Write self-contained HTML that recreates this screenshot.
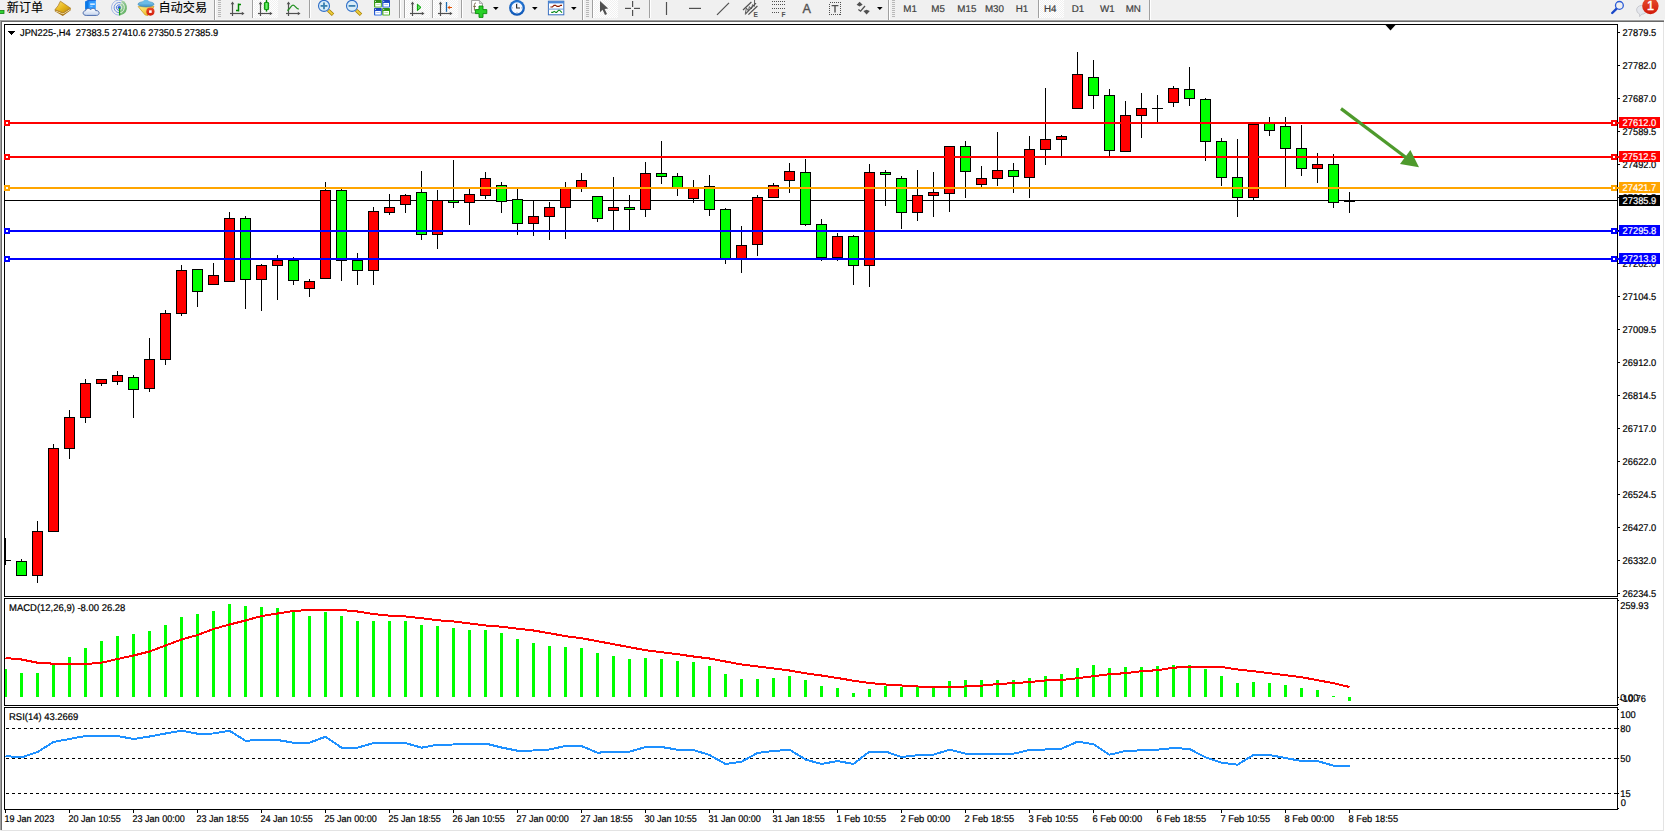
<!DOCTYPE html>
<html lang="zh"><head><meta charset="utf-8"><title>JPN225-,H4</title>
<style>html,body{margin:0;padding:0;background:#f0f0f0;}body{width:1665px;height:832px;overflow:hidden;position:relative;}svg{position:absolute;left:0;top:0;display:block;}text{font-family:"Liberation Sans", "DejaVu Sans", sans-serif;} .cjk{font-family:"Liberation Sans", "Noto Sans CJK SC", "WenQuanYi Zen Hei", sans-serif;}</style></head><body>
<svg width="1665" height="832" viewBox="0 0 1665 832">
<g shape-rendering="crispEdges">
<rect x="0" y="0" width="1665" height="832" fill="#f0f0f0"/>
<rect x="0" y="19" width="1665" height="1" fill="#f5f5f5"/>
<rect x="2" y="22" width="1661" height="808" fill="#ffffff"/>
<rect x="0" y="20" width="1664" height="1" fill="#a0a0a0"/>
<rect x="0" y="21" width="1664" height="1" fill="#696969"/>
<rect x="0" y="21" width="1" height="809" fill="#a0a0a0"/>
<rect x="1" y="22" width="1" height="808" fill="#696969"/>
<rect x="1663" y="22" width="1" height="809" fill="#e3e3e3"/>
<rect x="1" y="830" width="1663" height="1" fill="#e3e3e3"/>
<rect x="1664" y="20" width="1" height="812" fill="#ffffff"/>
<rect x="0" y="831" width="1665" height="1" fill="#ffffff"/>
<rect x="4" y="24" width="1614" height="1" fill="#000000"/>
<rect x="4" y="596" width="1614" height="1" fill="#000000"/>
<rect x="4" y="24" width="1" height="573" fill="#000000"/>
<rect x="1617" y="24" width="1" height="573" fill="#000000"/>
<rect x="4" y="598" width="1614" height="1" fill="#000000"/>
<rect x="4" y="705" width="1614" height="1" fill="#000000"/>
<rect x="4" y="598" width="1" height="108" fill="#000000"/>
<rect x="1617" y="598" width="1" height="108" fill="#000000"/>
<rect x="4" y="707" width="1614" height="1" fill="#000000"/>
<rect x="4" y="809" width="1614" height="1" fill="#000000"/>
<rect x="4" y="707" width="1" height="103" fill="#000000"/>
<rect x="1617" y="707" width="1" height="103" fill="#000000"/>
</g>
<polygon points="1385.5,25 1395.5,25 1390.5,30.5" fill="#000"/>
<g shape-rendering="crispEdges">
<rect x="5" y="200" width="1612" height="1" fill="#000000"/>
<rect x="5" y="538" width="1" height="27" fill="#000000"/>
<rect x="5" y="560" width="6" height="1" fill="#000000"/>
<rect x="21" y="559" width="1" height="17" fill="#000000"/>
<rect x="16" y="561" width="11" height="15" fill="#000000"/>
<rect x="17" y="562" width="9" height="13" fill="#00ff00"/>
<rect x="37" y="521" width="1" height="62" fill="#000000"/>
<rect x="32" y="531" width="11" height="45" fill="#000000"/>
<rect x="33" y="532" width="9" height="43" fill="#ff0000"/>
<rect x="53" y="444" width="1" height="88" fill="#000000"/>
<rect x="48" y="448" width="11" height="84" fill="#000000"/>
<rect x="49" y="449" width="9" height="82" fill="#ff0000"/>
<rect x="69" y="410" width="1" height="49" fill="#000000"/>
<rect x="64" y="417" width="11" height="32" fill="#000000"/>
<rect x="65" y="418" width="9" height="30" fill="#ff0000"/>
<rect x="85" y="379" width="1" height="44" fill="#000000"/>
<rect x="80" y="383" width="11" height="35" fill="#000000"/>
<rect x="81" y="384" width="9" height="33" fill="#ff0000"/>
<rect x="101" y="379" width="1" height="7" fill="#000000"/>
<rect x="96" y="379" width="11" height="5" fill="#000000"/>
<rect x="97" y="380" width="9" height="3" fill="#ff0000"/>
<rect x="117" y="371" width="1" height="14" fill="#000000"/>
<rect x="112" y="375" width="11" height="7" fill="#000000"/>
<rect x="113" y="376" width="9" height="5" fill="#ff0000"/>
<rect x="133" y="375" width="1" height="43" fill="#000000"/>
<rect x="128" y="377" width="11" height="13" fill="#000000"/>
<rect x="129" y="378" width="9" height="11" fill="#00ff00"/>
<rect x="149" y="338" width="1" height="54" fill="#000000"/>
<rect x="144" y="359" width="11" height="30" fill="#000000"/>
<rect x="145" y="360" width="9" height="28" fill="#ff0000"/>
<rect x="165" y="310" width="1" height="55" fill="#000000"/>
<rect x="160" y="313" width="11" height="47" fill="#000000"/>
<rect x="161" y="314" width="9" height="45" fill="#ff0000"/>
<rect x="181" y="265" width="1" height="51" fill="#000000"/>
<rect x="176" y="270" width="11" height="44" fill="#000000"/>
<rect x="177" y="271" width="9" height="42" fill="#ff0000"/>
<rect x="197" y="269" width="1" height="38" fill="#000000"/>
<rect x="192" y="269" width="11" height="23" fill="#000000"/>
<rect x="193" y="270" width="9" height="21" fill="#00ff00"/>
<rect x="213" y="263" width="1" height="22" fill="#000000"/>
<rect x="208" y="275" width="11" height="10" fill="#000000"/>
<rect x="209" y="276" width="9" height="8" fill="#ff0000"/>
<rect x="229" y="212" width="1" height="70" fill="#000000"/>
<rect x="224" y="218" width="11" height="64" fill="#000000"/>
<rect x="225" y="219" width="9" height="62" fill="#ff0000"/>
<rect x="245" y="216" width="1" height="93" fill="#000000"/>
<rect x="240" y="218" width="11" height="62" fill="#000000"/>
<rect x="241" y="219" width="9" height="60" fill="#00ff00"/>
<rect x="261" y="264" width="1" height="47" fill="#000000"/>
<rect x="256" y="265" width="11" height="15" fill="#000000"/>
<rect x="257" y="266" width="9" height="13" fill="#ff0000"/>
<rect x="277" y="255" width="1" height="45" fill="#000000"/>
<rect x="272" y="260" width="11" height="6" fill="#000000"/>
<rect x="273" y="261" width="9" height="4" fill="#ff0000"/>
<rect x="293" y="257" width="1" height="28" fill="#000000"/>
<rect x="288" y="260" width="11" height="21" fill="#000000"/>
<rect x="289" y="261" width="9" height="19" fill="#00ff00"/>
<rect x="309" y="279" width="1" height="18" fill="#000000"/>
<rect x="304" y="281" width="11" height="8" fill="#000000"/>
<rect x="305" y="282" width="9" height="6" fill="#ff0000"/>
<rect x="325" y="182" width="1" height="97" fill="#000000"/>
<rect x="320" y="190" width="11" height="89" fill="#000000"/>
<rect x="321" y="191" width="9" height="87" fill="#ff0000"/>
<rect x="341" y="189" width="1" height="92" fill="#000000"/>
<rect x="336" y="190" width="11" height="71" fill="#000000"/>
<rect x="337" y="191" width="9" height="69" fill="#00ff00"/>
<rect x="357" y="253" width="1" height="32" fill="#000000"/>
<rect x="352" y="260" width="11" height="11" fill="#000000"/>
<rect x="353" y="261" width="9" height="9" fill="#00ff00"/>
<rect x="373" y="207" width="1" height="78" fill="#000000"/>
<rect x="368" y="211" width="11" height="60" fill="#000000"/>
<rect x="369" y="212" width="9" height="58" fill="#ff0000"/>
<rect x="389" y="194" width="1" height="21" fill="#000000"/>
<rect x="384" y="207" width="11" height="6" fill="#000000"/>
<rect x="385" y="208" width="9" height="4" fill="#ff0000"/>
<rect x="405" y="194" width="1" height="19" fill="#000000"/>
<rect x="400" y="195" width="11" height="10" fill="#000000"/>
<rect x="401" y="196" width="9" height="8" fill="#ff0000"/>
<rect x="421" y="171" width="1" height="69" fill="#000000"/>
<rect x="416" y="192" width="11" height="43" fill="#000000"/>
<rect x="417" y="193" width="9" height="41" fill="#00ff00"/>
<rect x="437" y="190" width="1" height="59" fill="#000000"/>
<rect x="432" y="200" width="11" height="35" fill="#000000"/>
<rect x="433" y="201" width="9" height="33" fill="#ff0000"/>
<rect x="453" y="160" width="1" height="48" fill="#000000"/>
<rect x="448" y="200" width="11" height="3" fill="#000000"/>
<rect x="449" y="201" width="9" height="1" fill="#00ff00"/>
<rect x="469" y="189" width="1" height="36" fill="#000000"/>
<rect x="464" y="194" width="11" height="9" fill="#000000"/>
<rect x="465" y="195" width="9" height="7" fill="#ff0000"/>
<rect x="485" y="172" width="1" height="27" fill="#000000"/>
<rect x="480" y="178" width="11" height="18" fill="#000000"/>
<rect x="481" y="179" width="9" height="16" fill="#ff0000"/>
<rect x="501" y="182" width="1" height="31" fill="#000000"/>
<rect x="496" y="185" width="11" height="17" fill="#000000"/>
<rect x="497" y="186" width="9" height="15" fill="#00ff00"/>
<rect x="517" y="189" width="1" height="46" fill="#000000"/>
<rect x="512" y="199" width="11" height="25" fill="#000000"/>
<rect x="513" y="200" width="9" height="23" fill="#00ff00"/>
<rect x="533" y="200" width="1" height="36" fill="#000000"/>
<rect x="528" y="216" width="11" height="8" fill="#000000"/>
<rect x="529" y="217" width="9" height="6" fill="#ff0000"/>
<rect x="549" y="202" width="1" height="38" fill="#000000"/>
<rect x="544" y="207" width="11" height="10" fill="#000000"/>
<rect x="545" y="208" width="9" height="8" fill="#ff0000"/>
<rect x="565" y="182" width="1" height="57" fill="#000000"/>
<rect x="560" y="188" width="11" height="20" fill="#000000"/>
<rect x="561" y="189" width="9" height="18" fill="#ff0000"/>
<rect x="581" y="173" width="1" height="19" fill="#000000"/>
<rect x="576" y="180" width="11" height="8" fill="#000000"/>
<rect x="577" y="181" width="9" height="6" fill="#ff0000"/>
<rect x="597" y="196" width="1" height="26" fill="#000000"/>
<rect x="592" y="196" width="11" height="23" fill="#000000"/>
<rect x="593" y="197" width="9" height="21" fill="#00ff00"/>
<rect x="613" y="177" width="1" height="54" fill="#000000"/>
<rect x="608" y="207" width="11" height="4" fill="#000000"/>
<rect x="609" y="208" width="9" height="2" fill="#ff0000"/>
<rect x="629" y="195" width="1" height="36" fill="#000000"/>
<rect x="624" y="207" width="11" height="3" fill="#000000"/>
<rect x="625" y="208" width="9" height="1" fill="#00ff00"/>
<rect x="645" y="162" width="1" height="55" fill="#000000"/>
<rect x="640" y="173" width="11" height="37" fill="#000000"/>
<rect x="641" y="174" width="9" height="35" fill="#ff0000"/>
<rect x="661" y="141" width="1" height="43" fill="#000000"/>
<rect x="656" y="173" width="11" height="4" fill="#000000"/>
<rect x="657" y="174" width="9" height="2" fill="#00ff00"/>
<rect x="677" y="173" width="1" height="23" fill="#000000"/>
<rect x="672" y="176" width="11" height="13" fill="#000000"/>
<rect x="673" y="177" width="9" height="11" fill="#00ff00"/>
<rect x="693" y="180" width="1" height="23" fill="#000000"/>
<rect x="688" y="188" width="11" height="11" fill="#000000"/>
<rect x="689" y="189" width="9" height="9" fill="#ff0000"/>
<rect x="709" y="175" width="1" height="41" fill="#000000"/>
<rect x="704" y="186" width="11" height="24" fill="#000000"/>
<rect x="705" y="187" width="9" height="22" fill="#00ff00"/>
<rect x="725" y="208" width="1" height="56" fill="#000000"/>
<rect x="720" y="209" width="11" height="50" fill="#000000"/>
<rect x="721" y="210" width="9" height="48" fill="#00ff00"/>
<rect x="741" y="226" width="1" height="47" fill="#000000"/>
<rect x="736" y="245" width="11" height="14" fill="#000000"/>
<rect x="737" y="246" width="9" height="12" fill="#ff0000"/>
<rect x="757" y="195" width="1" height="61" fill="#000000"/>
<rect x="752" y="197" width="11" height="48" fill="#000000"/>
<rect x="753" y="198" width="9" height="46" fill="#ff0000"/>
<rect x="773" y="183" width="1" height="15" fill="#000000"/>
<rect x="768" y="185" width="11" height="13" fill="#000000"/>
<rect x="769" y="186" width="9" height="11" fill="#ff0000"/>
<rect x="789" y="163" width="1" height="30" fill="#000000"/>
<rect x="784" y="171" width="11" height="10" fill="#000000"/>
<rect x="785" y="172" width="9" height="8" fill="#ff0000"/>
<rect x="805" y="159" width="1" height="67" fill="#000000"/>
<rect x="800" y="172" width="11" height="53" fill="#000000"/>
<rect x="801" y="173" width="9" height="51" fill="#00ff00"/>
<rect x="821" y="219" width="1" height="42" fill="#000000"/>
<rect x="816" y="224" width="11" height="34" fill="#000000"/>
<rect x="817" y="225" width="9" height="32" fill="#00ff00"/>
<rect x="837" y="233" width="1" height="28" fill="#000000"/>
<rect x="832" y="236" width="11" height="22" fill="#000000"/>
<rect x="833" y="237" width="9" height="20" fill="#ff0000"/>
<rect x="853" y="235" width="1" height="50" fill="#000000"/>
<rect x="848" y="236" width="11" height="30" fill="#000000"/>
<rect x="849" y="237" width="9" height="28" fill="#00ff00"/>
<rect x="869" y="164" width="1" height="123" fill="#000000"/>
<rect x="864" y="172" width="11" height="94" fill="#000000"/>
<rect x="865" y="173" width="9" height="92" fill="#ff0000"/>
<rect x="885" y="170" width="1" height="36" fill="#000000"/>
<rect x="880" y="172" width="11" height="3" fill="#000000"/>
<rect x="881" y="173" width="9" height="1" fill="#00ff00"/>
<rect x="901" y="176" width="1" height="53" fill="#000000"/>
<rect x="896" y="178" width="11" height="35" fill="#000000"/>
<rect x="897" y="179" width="9" height="33" fill="#00ff00"/>
<rect x="917" y="170" width="1" height="51" fill="#000000"/>
<rect x="912" y="195" width="11" height="18" fill="#000000"/>
<rect x="913" y="196" width="9" height="16" fill="#ff0000"/>
<rect x="933" y="172" width="1" height="45" fill="#000000"/>
<rect x="928" y="192" width="11" height="4" fill="#000000"/>
<rect x="929" y="193" width="9" height="2" fill="#ff0000"/>
<rect x="949" y="146" width="1" height="66" fill="#000000"/>
<rect x="944" y="146" width="11" height="48" fill="#000000"/>
<rect x="945" y="147" width="9" height="46" fill="#ff0000"/>
<rect x="965" y="141" width="1" height="57" fill="#000000"/>
<rect x="960" y="146" width="11" height="26" fill="#000000"/>
<rect x="961" y="147" width="9" height="24" fill="#00ff00"/>
<rect x="981" y="166" width="1" height="21" fill="#000000"/>
<rect x="976" y="178" width="11" height="7" fill="#000000"/>
<rect x="977" y="179" width="9" height="5" fill="#ff0000"/>
<rect x="997" y="132" width="1" height="54" fill="#000000"/>
<rect x="992" y="170" width="11" height="9" fill="#000000"/>
<rect x="993" y="171" width="9" height="7" fill="#ff0000"/>
<rect x="1013" y="163" width="1" height="30" fill="#000000"/>
<rect x="1008" y="170" width="11" height="7" fill="#000000"/>
<rect x="1009" y="171" width="9" height="5" fill="#00ff00"/>
<rect x="1029" y="136" width="1" height="62" fill="#000000"/>
<rect x="1024" y="149" width="11" height="29" fill="#000000"/>
<rect x="1025" y="150" width="9" height="27" fill="#ff0000"/>
<rect x="1045" y="88" width="1" height="77" fill="#000000"/>
<rect x="1040" y="139" width="11" height="11" fill="#000000"/>
<rect x="1041" y="140" width="9" height="9" fill="#ff0000"/>
<rect x="1061" y="135" width="1" height="21" fill="#000000"/>
<rect x="1056" y="136" width="11" height="4" fill="#000000"/>
<rect x="1057" y="137" width="9" height="2" fill="#ff0000"/>
<rect x="1077" y="52" width="1" height="57" fill="#000000"/>
<rect x="1072" y="74" width="11" height="35" fill="#000000"/>
<rect x="1073" y="75" width="9" height="33" fill="#ff0000"/>
<rect x="1093" y="60" width="1" height="49" fill="#000000"/>
<rect x="1088" y="77" width="11" height="19" fill="#000000"/>
<rect x="1089" y="78" width="9" height="17" fill="#00ff00"/>
<rect x="1109" y="89" width="1" height="67" fill="#000000"/>
<rect x="1104" y="95" width="11" height="56" fill="#000000"/>
<rect x="1105" y="96" width="9" height="54" fill="#00ff00"/>
<rect x="1125" y="101" width="1" height="51" fill="#000000"/>
<rect x="1120" y="115" width="11" height="37" fill="#000000"/>
<rect x="1121" y="116" width="9" height="35" fill="#ff0000"/>
<rect x="1141" y="93" width="1" height="45" fill="#000000"/>
<rect x="1136" y="108" width="11" height="8" fill="#000000"/>
<rect x="1137" y="109" width="9" height="6" fill="#ff0000"/>
<rect x="1157" y="95" width="1" height="27" fill="#000000"/>
<rect x="1152" y="108" width="11" height="1" fill="#000000"/>
<rect x="1173" y="86" width="1" height="21" fill="#000000"/>
<rect x="1168" y="88" width="11" height="15" fill="#000000"/>
<rect x="1169" y="89" width="9" height="13" fill="#ff0000"/>
<rect x="1189" y="67" width="1" height="39" fill="#000000"/>
<rect x="1184" y="89" width="11" height="10" fill="#000000"/>
<rect x="1185" y="90" width="9" height="8" fill="#00ff00"/>
<rect x="1205" y="98" width="1" height="63" fill="#000000"/>
<rect x="1200" y="99" width="11" height="43" fill="#000000"/>
<rect x="1201" y="100" width="9" height="41" fill="#00ff00"/>
<rect x="1221" y="138" width="1" height="48" fill="#000000"/>
<rect x="1216" y="141" width="11" height="37" fill="#000000"/>
<rect x="1217" y="142" width="9" height="35" fill="#00ff00"/>
<rect x="1237" y="139" width="1" height="78" fill="#000000"/>
<rect x="1232" y="177" width="11" height="21" fill="#000000"/>
<rect x="1233" y="178" width="9" height="19" fill="#00ff00"/>
<rect x="1253" y="124" width="1" height="76" fill="#000000"/>
<rect x="1248" y="124" width="11" height="74" fill="#000000"/>
<rect x="1249" y="125" width="9" height="72" fill="#ff0000"/>
<rect x="1269" y="117" width="1" height="19" fill="#000000"/>
<rect x="1264" y="123" width="11" height="8" fill="#000000"/>
<rect x="1265" y="124" width="9" height="6" fill="#00ff00"/>
<rect x="1285" y="117" width="1" height="70" fill="#000000"/>
<rect x="1280" y="126" width="11" height="23" fill="#000000"/>
<rect x="1281" y="127" width="9" height="21" fill="#00ff00"/>
<rect x="1301" y="125" width="1" height="51" fill="#000000"/>
<rect x="1296" y="148" width="11" height="21" fill="#000000"/>
<rect x="1297" y="149" width="9" height="19" fill="#00ff00"/>
<rect x="1317" y="153" width="1" height="30" fill="#000000"/>
<rect x="1312" y="164" width="11" height="5" fill="#000000"/>
<rect x="1313" y="165" width="9" height="3" fill="#ff0000"/>
<rect x="1333" y="154" width="1" height="54" fill="#000000"/>
<rect x="1328" y="164" width="11" height="39" fill="#000000"/>
<rect x="1329" y="165" width="9" height="37" fill="#00ff00"/>
<rect x="1349" y="192" width="1" height="21" fill="#000000"/>
<rect x="1344" y="201" width="11" height="1" fill="#000000"/>
<rect x="5" y="122" width="1614" height="2" fill="#ff0000"/>
<rect x="4" y="120" width="6" height="6" fill="#ff0000"/>
<rect x="6" y="122" width="2" height="2" fill="#ffffff"/>
<rect x="1611" y="120" width="6" height="6" fill="#ff0000"/>
<rect x="1613" y="122" width="2" height="2" fill="#ffffff"/>
<rect x="5" y="156" width="1614" height="2" fill="#ff0000"/>
<rect x="4" y="154" width="6" height="6" fill="#ff0000"/>
<rect x="6" y="156" width="2" height="2" fill="#ffffff"/>
<rect x="1611" y="154" width="6" height="6" fill="#ff0000"/>
<rect x="1613" y="156" width="2" height="2" fill="#ffffff"/>
<rect x="5" y="187" width="1614" height="2" fill="#ffa500"/>
<rect x="4" y="185" width="6" height="6" fill="#ffa500"/>
<rect x="6" y="187" width="2" height="2" fill="#ffffff"/>
<rect x="1611" y="185" width="6" height="6" fill="#ffa500"/>
<rect x="1613" y="187" width="2" height="2" fill="#ffffff"/>
<rect x="5" y="230" width="1614" height="2" fill="#0000ff"/>
<rect x="4" y="228" width="6" height="6" fill="#0000ff"/>
<rect x="6" y="230" width="2" height="2" fill="#ffffff"/>
<rect x="1611" y="228" width="6" height="6" fill="#0000ff"/>
<rect x="1613" y="230" width="2" height="2" fill="#ffffff"/>
<rect x="5" y="258" width="1614" height="2" fill="#0000ff"/>
<rect x="4" y="256" width="6" height="6" fill="#0000ff"/>
<rect x="6" y="258" width="2" height="2" fill="#ffffff"/>
<rect x="1611" y="256" width="6" height="6" fill="#0000ff"/>
<rect x="1613" y="258" width="2" height="2" fill="#ffffff"/>
<rect x="5" y="669" width="2" height="28" fill="#00ff00"/>
<rect x="20" y="673" width="3" height="24" fill="#00ff00"/>
<rect x="36" y="673" width="3" height="24" fill="#00ff00"/>
<rect x="52" y="665" width="3" height="32" fill="#00ff00"/>
<rect x="68" y="657" width="3" height="40" fill="#00ff00"/>
<rect x="84" y="648" width="3" height="49" fill="#00ff00"/>
<rect x="100" y="641" width="3" height="56" fill="#00ff00"/>
<rect x="116" y="636" width="3" height="61" fill="#00ff00"/>
<rect x="132" y="634" width="3" height="63" fill="#00ff00"/>
<rect x="148" y="631" width="3" height="66" fill="#00ff00"/>
<rect x="164" y="625" width="3" height="72" fill="#00ff00"/>
<rect x="180" y="617" width="3" height="80" fill="#00ff00"/>
<rect x="196" y="614" width="3" height="83" fill="#00ff00"/>
<rect x="212" y="611" width="3" height="86" fill="#00ff00"/>
<rect x="228" y="604" width="3" height="93" fill="#00ff00"/>
<rect x="244" y="606" width="3" height="91" fill="#00ff00"/>
<rect x="260" y="607" width="3" height="90" fill="#00ff00"/>
<rect x="276" y="608" width="3" height="89" fill="#00ff00"/>
<rect x="292" y="612" width="3" height="85" fill="#00ff00"/>
<rect x="308" y="616" width="3" height="81" fill="#00ff00"/>
<rect x="324" y="612" width="3" height="85" fill="#00ff00"/>
<rect x="340" y="616" width="3" height="81" fill="#00ff00"/>
<rect x="356" y="621" width="3" height="76" fill="#00ff00"/>
<rect x="372" y="621" width="3" height="76" fill="#00ff00"/>
<rect x="388" y="621" width="3" height="76" fill="#00ff00"/>
<rect x="404" y="621" width="3" height="76" fill="#00ff00"/>
<rect x="420" y="625" width="3" height="72" fill="#00ff00"/>
<rect x="436" y="626" width="3" height="71" fill="#00ff00"/>
<rect x="452" y="628" width="3" height="69" fill="#00ff00"/>
<rect x="468" y="630" width="3" height="67" fill="#00ff00"/>
<rect x="484" y="630" width="3" height="67" fill="#00ff00"/>
<rect x="500" y="633" width="3" height="64" fill="#00ff00"/>
<rect x="516" y="639" width="3" height="58" fill="#00ff00"/>
<rect x="532" y="643" width="3" height="54" fill="#00ff00"/>
<rect x="548" y="646" width="3" height="51" fill="#00ff00"/>
<rect x="564" y="647" width="3" height="50" fill="#00ff00"/>
<rect x="580" y="648" width="3" height="49" fill="#00ff00"/>
<rect x="596" y="653" width="3" height="44" fill="#00ff00"/>
<rect x="612" y="656" width="3" height="41" fill="#00ff00"/>
<rect x="628" y="659" width="3" height="38" fill="#00ff00"/>
<rect x="644" y="658" width="3" height="39" fill="#00ff00"/>
<rect x="660" y="659" width="3" height="38" fill="#00ff00"/>
<rect x="676" y="661" width="3" height="36" fill="#00ff00"/>
<rect x="692" y="662" width="3" height="35" fill="#00ff00"/>
<rect x="708" y="666" width="3" height="31" fill="#00ff00"/>
<rect x="724" y="674" width="3" height="23" fill="#00ff00"/>
<rect x="740" y="679" width="3" height="18" fill="#00ff00"/>
<rect x="756" y="679" width="3" height="18" fill="#00ff00"/>
<rect x="772" y="678" width="3" height="19" fill="#00ff00"/>
<rect x="788" y="676" width="3" height="21" fill="#00ff00"/>
<rect x="804" y="680" width="3" height="17" fill="#00ff00"/>
<rect x="820" y="686" width="3" height="11" fill="#00ff00"/>
<rect x="836" y="688" width="3" height="9" fill="#00ff00"/>
<rect x="852" y="693" width="3" height="4" fill="#00ff00"/>
<rect x="868" y="689" width="3" height="8" fill="#00ff00"/>
<rect x="884" y="686" width="3" height="11" fill="#00ff00"/>
<rect x="900" y="687" width="3" height="10" fill="#00ff00"/>
<rect x="916" y="687" width="3" height="10" fill="#00ff00"/>
<rect x="932" y="688" width="3" height="9" fill="#00ff00"/>
<rect x="948" y="681" width="3" height="16" fill="#00ff00"/>
<rect x="964" y="680" width="3" height="17" fill="#00ff00"/>
<rect x="980" y="680" width="3" height="17" fill="#00ff00"/>
<rect x="996" y="680" width="3" height="17" fill="#00ff00"/>
<rect x="1012" y="680" width="3" height="17" fill="#00ff00"/>
<rect x="1028" y="678" width="3" height="19" fill="#00ff00"/>
<rect x="1044" y="676" width="3" height="21" fill="#00ff00"/>
<rect x="1060" y="674" width="3" height="23" fill="#00ff00"/>
<rect x="1076" y="668" width="3" height="29" fill="#00ff00"/>
<rect x="1092" y="665" width="3" height="32" fill="#00ff00"/>
<rect x="1108" y="668" width="3" height="29" fill="#00ff00"/>
<rect x="1124" y="667" width="3" height="30" fill="#00ff00"/>
<rect x="1140" y="667" width="3" height="30" fill="#00ff00"/>
<rect x="1156" y="666" width="3" height="31" fill="#00ff00"/>
<rect x="1172" y="665" width="3" height="32" fill="#00ff00"/>
<rect x="1188" y="665" width="3" height="32" fill="#00ff00"/>
<rect x="1204" y="669" width="3" height="28" fill="#00ff00"/>
<rect x="1220" y="676" width="3" height="21" fill="#00ff00"/>
<rect x="1236" y="683" width="3" height="14" fill="#00ff00"/>
<rect x="1252" y="682" width="3" height="15" fill="#00ff00"/>
<rect x="1268" y="683" width="3" height="14" fill="#00ff00"/>
<rect x="1284" y="685" width="3" height="12" fill="#00ff00"/>
<rect x="1300" y="688" width="3" height="9" fill="#00ff00"/>
<rect x="1316" y="690" width="3" height="7" fill="#00ff00"/>
<rect x="1332" y="696" width="3" height="1" fill="#00ff00"/>
<rect x="1348" y="697" width="3" height="4" fill="#00ff00"/>
</g>
<polyline points="5.5,658 21.5,659.5 37.5,662.7 53.5,663.7 69.5,664 85.5,664 101.5,662.7 117.5,659 133.5,655.5 149.5,651.5 165.5,645.5 181.5,639.5 197.5,635 213.5,629 229.5,624.5 245.5,620.5 261.5,616 277.5,613.5 293.5,611 309.5,610 325.5,610 341.5,610 357.5,611.5 373.5,614 389.5,615.7 405.5,616.5 421.5,618.2 437.5,620.2 453.5,621.5 469.5,623.5 485.5,625.5 501.5,626.7 517.5,628.7 533.5,630.5 549.5,633.2 565.5,636.2 581.5,638.2 597.5,641.2 613.5,644.2 629.5,647.2 645.5,650.2 661.5,652.2 677.5,654.2 693.5,656.5 709.5,658.5 725.5,661.5 741.5,664.5 757.5,666.5 773.5,668.5 789.5,670.5 805.5,673.3 821.5,675.5 837.5,678 853.5,680.7 869.5,683 885.5,684.5 901.5,685.5 917.5,686.5 933.5,686.7 949.5,686.7 965.5,686.5 981.5,685.7 997.5,684 1013.5,683.2 1029.5,682 1045.5,680.5 1061.5,680 1077.5,678.2 1093.5,676.2 1109.5,674.2 1125.5,673.2 1141.5,671.2 1157.5,670.2 1173.5,667.7 1189.5,666.7 1205.5,666.7 1221.5,667 1237.5,669.5 1253.5,671.2 1269.5,673.2 1285.5,675.2 1301.5,677.2 1317.5,680.2 1333.5,683.2 1349.5,687" fill="none" stroke="#ff0000" stroke-width="2" stroke-linejoin="round" shape-rendering="crispEdges"/>
<g shape-rendering="crispEdges">
<line x1="6" y1="728.5" x2="1617" y2="728.5" stroke="#000" stroke-width="1" stroke-dasharray="3 3"/>
<line x1="6" y1="758.5" x2="1617" y2="758.5" stroke="#000" stroke-width="1" stroke-dasharray="3 3"/>
<line x1="6" y1="793.5" x2="1617" y2="793.5" stroke="#000" stroke-width="1" stroke-dasharray="3 3"/>
</g>
<polyline points="5.5,756 21.5,757.5 37.5,752 53.5,742 69.5,739 85.5,736 101.5,736 117.5,736 133.5,739 149.5,736.5 165.5,733.5 181.5,730.7 197.5,733.7 213.5,733.5 229.5,730.7 245.5,740.7 261.5,740 277.5,740 293.5,742.7 309.5,742.7 325.5,736.7 341.5,747.7 357.5,747.7 373.5,743 389.5,743 405.5,743 421.5,747.7 437.5,744.7 453.5,744.5 469.5,744.2 485.5,743.5 501.5,747.5 517.5,750.7 533.5,750.5 549.5,749.5 565.5,746 581.5,746 597.5,752.7 613.5,751.7 629.5,751.7 645.5,747 661.5,747 677.5,749.7 693.5,750 709.5,755 725.5,764 741.5,761.7 757.5,753 773.5,751 789.5,749.7 805.5,759.5 821.5,764 837.5,761 853.5,764 869.5,751.5 885.5,751.5 901.5,757 917.5,755.2 933.5,754.7 949.5,749.7 965.5,753.7 981.5,753.7 997.5,753.7 1013.5,753.7 1029.5,750 1045.5,749.5 1061.5,748.7 1077.5,741.7 1093.5,744.2 1109.5,754.7 1125.5,751 1141.5,750.3 1157.5,749.7 1173.5,748 1189.5,749 1205.5,757.3 1221.5,762.7 1237.5,764.7 1253.5,755 1269.5,755 1285.5,758 1301.5,761 1317.5,761 1333.5,765.7 1349.5,765.7" fill="none" stroke="#1e90ff" stroke-width="2" stroke-linejoin="round" shape-rendering="crispEdges"/>
<g fill="#4e9a2c" stroke="none">
<line x1="1341" y1="108.6" x2="1408" y2="159" stroke="#4e9a2c" stroke-width="3.2"/>
<polygon points="1410.4,150 1400,164 1419,167.3"/>
</g>
<g shape-rendering="crispEdges">
<rect x="1618" y="32" width="2" height="1" fill="#000000"/>
<rect x="1618" y="65" width="2" height="1" fill="#000000"/>
<rect x="1618" y="98" width="2" height="1" fill="#000000"/>
<rect x="1618" y="131" width="2" height="1" fill="#000000"/>
<rect x="1618" y="164" width="2" height="1" fill="#000000"/>
<rect x="1618" y="197" width="2" height="1" fill="#000000"/>
<rect x="1618" y="230" width="2" height="1" fill="#000000"/>
<rect x="1618" y="263" width="2" height="1" fill="#000000"/>
<rect x="1618" y="296" width="2" height="1" fill="#000000"/>
<rect x="1618" y="329" width="2" height="1" fill="#000000"/>
<rect x="1618" y="362" width="2" height="1" fill="#000000"/>
<rect x="1618" y="395" width="2" height="1" fill="#000000"/>
<rect x="1618" y="428" width="2" height="1" fill="#000000"/>
<rect x="1618" y="461" width="2" height="1" fill="#000000"/>
<rect x="1618" y="494" width="2" height="1" fill="#000000"/>
<rect x="1618" y="527" width="2" height="1" fill="#000000"/>
<rect x="1618" y="560" width="2" height="1" fill="#000000"/>
<rect x="1618" y="593" width="2" height="1" fill="#000000"/>
</g>
<text transform="translate(1622.6,36) scale(0.95,1)" font-size="9.8" fill="#000" stroke="#000" stroke-width="0.2" text-rendering="geometricPrecision" xml:space="preserve" style="white-space:pre">27879.5</text>
<text transform="translate(1622.6,69) scale(0.95,1)" font-size="9.8" fill="#000" stroke="#000" stroke-width="0.2" text-rendering="geometricPrecision" xml:space="preserve" style="white-space:pre">27782.0</text>
<text transform="translate(1622.6,102) scale(0.95,1)" font-size="9.8" fill="#000" stroke="#000" stroke-width="0.2" text-rendering="geometricPrecision" xml:space="preserve" style="white-space:pre">27687.0</text>
<text transform="translate(1622.6,135) scale(0.95,1)" font-size="9.8" fill="#000" stroke="#000" stroke-width="0.2" text-rendering="geometricPrecision" xml:space="preserve" style="white-space:pre">27589.5</text>
<text transform="translate(1622.6,168) scale(0.95,1)" font-size="9.8" fill="#000" stroke="#000" stroke-width="0.2" text-rendering="geometricPrecision" xml:space="preserve" style="white-space:pre">27492.0</text>
<text transform="translate(1622.6,201) scale(0.95,1)" font-size="9.8" fill="#000" stroke="#000" stroke-width="0.2" text-rendering="geometricPrecision" xml:space="preserve" style="white-space:pre">27394.5</text>
<text transform="translate(1622.6,234) scale(0.95,1)" font-size="9.8" fill="#000" stroke="#000" stroke-width="0.2" text-rendering="geometricPrecision" xml:space="preserve" style="white-space:pre">27297.0</text>
<text transform="translate(1622.6,267) scale(0.95,1)" font-size="9.8" fill="#000" stroke="#000" stroke-width="0.2" text-rendering="geometricPrecision" xml:space="preserve" style="white-space:pre">27202.0</text>
<text transform="translate(1622.6,300) scale(0.95,1)" font-size="9.8" fill="#000" stroke="#000" stroke-width="0.2" text-rendering="geometricPrecision" xml:space="preserve" style="white-space:pre">27104.5</text>
<text transform="translate(1622.6,333) scale(0.95,1)" font-size="9.8" fill="#000" stroke="#000" stroke-width="0.2" text-rendering="geometricPrecision" xml:space="preserve" style="white-space:pre">27009.5</text>
<text transform="translate(1622.6,366) scale(0.95,1)" font-size="9.8" fill="#000" stroke="#000" stroke-width="0.2" text-rendering="geometricPrecision" xml:space="preserve" style="white-space:pre">26912.0</text>
<text transform="translate(1622.6,399) scale(0.95,1)" font-size="9.8" fill="#000" stroke="#000" stroke-width="0.2" text-rendering="geometricPrecision" xml:space="preserve" style="white-space:pre">26814.5</text>
<text transform="translate(1622.6,432) scale(0.95,1)" font-size="9.8" fill="#000" stroke="#000" stroke-width="0.2" text-rendering="geometricPrecision" xml:space="preserve" style="white-space:pre">26717.0</text>
<text transform="translate(1622.6,465) scale(0.95,1)" font-size="9.8" fill="#000" stroke="#000" stroke-width="0.2" text-rendering="geometricPrecision" xml:space="preserve" style="white-space:pre">26622.0</text>
<text transform="translate(1622.6,498) scale(0.95,1)" font-size="9.8" fill="#000" stroke="#000" stroke-width="0.2" text-rendering="geometricPrecision" xml:space="preserve" style="white-space:pre">26524.5</text>
<text transform="translate(1622.6,531) scale(0.95,1)" font-size="9.8" fill="#000" stroke="#000" stroke-width="0.2" text-rendering="geometricPrecision" xml:space="preserve" style="white-space:pre">26427.0</text>
<text transform="translate(1622.6,564) scale(0.95,1)" font-size="9.8" fill="#000" stroke="#000" stroke-width="0.2" text-rendering="geometricPrecision" xml:space="preserve" style="white-space:pre">26332.0</text>
<text transform="translate(1622.6,597) scale(0.95,1)" font-size="9.8" fill="#000" stroke="#000" stroke-width="0.2" text-rendering="geometricPrecision" xml:space="preserve" style="white-space:pre">26234.5</text>
<rect x="1619" y="117" width="41" height="11" fill="#ff0000" shape-rendering="crispEdges"/>
<text transform="translate(1622.6,126) scale(0.95,1)" font-size="9.8" fill="#fff" stroke="#fff" stroke-width="0.2" text-rendering="geometricPrecision" xml:space="preserve" style="white-space:pre">27612.0</text>
<rect x="1619" y="151" width="41" height="11" fill="#ff0000" shape-rendering="crispEdges"/>
<text transform="translate(1622.6,160) scale(0.95,1)" font-size="9.8" fill="#fff" stroke="#fff" stroke-width="0.2" text-rendering="geometricPrecision" xml:space="preserve" style="white-space:pre">27512.5</text>
<rect x="1619" y="182" width="41" height="11" fill="#ffa500" shape-rendering="crispEdges"/>
<text transform="translate(1622.6,191) scale(0.95,1)" font-size="9.8" fill="#fff" stroke="#fff" stroke-width="0.2" text-rendering="geometricPrecision" xml:space="preserve" style="white-space:pre">27421.7</text>
<rect x="1619" y="195" width="41" height="11" fill="#000000" shape-rendering="crispEdges"/>
<text transform="translate(1622.6,204) scale(0.95,1)" font-size="9.8" fill="#fff" stroke="#fff" stroke-width="0.2" text-rendering="geometricPrecision" xml:space="preserve" style="white-space:pre">27385.9</text>
<rect x="1619" y="225" width="41" height="11" fill="#0000ff" shape-rendering="crispEdges"/>
<text transform="translate(1622.6,234) scale(0.95,1)" font-size="9.8" fill="#fff" stroke="#fff" stroke-width="0.2" text-rendering="geometricPrecision" xml:space="preserve" style="white-space:pre">27295.8</text>
<rect x="1619" y="253" width="41" height="11" fill="#0000ff" shape-rendering="crispEdges"/>
<text transform="translate(1622.6,262) scale(0.95,1)" font-size="9.8" fill="#fff" stroke="#fff" stroke-width="0.2" text-rendering="geometricPrecision" xml:space="preserve" style="white-space:pre">27213.8</text>
<g shape-rendering="crispEdges">
<rect x="1618" y="600" width="1" height="1" fill="#000000"/>
<rect x="1618" y="697" width="1" height="1" fill="#000000"/>
<rect x="1618" y="704" width="1" height="1" fill="#000000"/>
<rect x="1618" y="709" width="1" height="1" fill="#000000"/>
<rect x="1618" y="728" width="1" height="1" fill="#000000"/>
<rect x="1618" y="758" width="1" height="1" fill="#000000"/>
<rect x="1618" y="793" width="1" height="1" fill="#000000"/>
<rect x="1618" y="808" width="1" height="1" fill="#000000"/>
</g>
<text transform="translate(1620.2,609) scale(0.95,1)" font-size="9.8" fill="#000" stroke="#000" stroke-width="0.2" text-rendering="geometricPrecision" xml:space="preserve" style="white-space:pre">259.93</text>
<text transform="translate(1620.2,701) scale(0.95,1)" font-size="9.8" fill="#000" stroke="#000" stroke-width="0.2" text-rendering="geometricPrecision" xml:space="preserve" style="white-space:pre">0.00</text>
<text transform="translate(1619.6000000000001,702) scale(0.95,1)" font-size="9.8" fill="#000" stroke="#000" stroke-width="0.2" text-rendering="geometricPrecision" xml:space="preserve" style="white-space:pre">-10.76</text>
<text transform="translate(1620.2,718) scale(0.95,1)" font-size="9.8" fill="#000" stroke="#000" stroke-width="0.2" text-rendering="geometricPrecision" xml:space="preserve" style="white-space:pre">100</text>
<text transform="translate(1620.2,732) scale(0.95,1)" font-size="9.8" fill="#000" stroke="#000" stroke-width="0.2" text-rendering="geometricPrecision" xml:space="preserve" style="white-space:pre">80</text>
<text transform="translate(1620.2,762) scale(0.95,1)" font-size="9.8" fill="#000" stroke="#000" stroke-width="0.2" text-rendering="geometricPrecision" xml:space="preserve" style="white-space:pre">50</text>
<text transform="translate(1620.2,797) scale(0.95,1)" font-size="9.8" fill="#000" stroke="#000" stroke-width="0.2" text-rendering="geometricPrecision" xml:space="preserve" style="white-space:pre">15</text>
<text transform="translate(1620.8,806) scale(0.95,1)" font-size="9.8" fill="#000" stroke="#000" stroke-width="0.2" text-rendering="geometricPrecision" xml:space="preserve" style="white-space:pre">0</text>
<g shape-rendering="crispEdges">
<rect x="8" y="31" width="7" height="1" fill="#000000"/>
<rect x="9" y="32" width="5" height="1" fill="#000000"/>
<rect x="10" y="33" width="3" height="1" fill="#000000"/>
<rect x="11" y="34" width="1" height="1" fill="#000000"/>
</g>
<text transform="translate(20,36) scale(0.95,1)" font-size="9.8" fill="#000" stroke="#000" stroke-width="0.2" text-rendering="geometricPrecision" xml:space="preserve" style="white-space:pre">JPN225-,H4  27383.5 27410.6 27350.5 27385.9</text>
<text transform="translate(9,611) scale(0.967,1)" font-size="9.8" fill="#000" stroke="#000" stroke-width="0.2" text-rendering="geometricPrecision" xml:space="preserve" style="white-space:pre">MACD(12,26,9) -8.00 26.28</text>
<text transform="translate(9,720) scale(0.965,1)" font-size="9.8" fill="#000" stroke="#000" stroke-width="0.2" text-rendering="geometricPrecision" xml:space="preserve" style="white-space:pre">RSI(14) 43.2669</text>
<g shape-rendering="crispEdges">
<rect x="5" y="810" width="1" height="3" fill="#000000"/>
<rect x="69" y="810" width="1" height="3" fill="#000000"/>
<rect x="133" y="810" width="1" height="3" fill="#000000"/>
<rect x="197" y="810" width="1" height="3" fill="#000000"/>
<rect x="261" y="810" width="1" height="3" fill="#000000"/>
<rect x="325" y="810" width="1" height="3" fill="#000000"/>
<rect x="389" y="810" width="1" height="3" fill="#000000"/>
<rect x="453" y="810" width="1" height="3" fill="#000000"/>
<rect x="517" y="810" width="1" height="3" fill="#000000"/>
<rect x="581" y="810" width="1" height="3" fill="#000000"/>
<rect x="645" y="810" width="1" height="3" fill="#000000"/>
<rect x="709" y="810" width="1" height="3" fill="#000000"/>
<rect x="773" y="810" width="1" height="3" fill="#000000"/>
<rect x="837" y="810" width="1" height="3" fill="#000000"/>
<rect x="901" y="810" width="1" height="3" fill="#000000"/>
<rect x="965" y="810" width="1" height="3" fill="#000000"/>
<rect x="1029" y="810" width="1" height="3" fill="#000000"/>
<rect x="1093" y="810" width="1" height="3" fill="#000000"/>
<rect x="1157" y="810" width="1" height="3" fill="#000000"/>
<rect x="1221" y="810" width="1" height="3" fill="#000000"/>
<rect x="1285" y="810" width="1" height="3" fill="#000000"/>
<rect x="1349" y="810" width="1" height="3" fill="#000000"/>
</g>
<text transform="translate(4.5,822) scale(0.922,1)" font-size="9.8" fill="#000" stroke="#000" stroke-width="0.2" text-rendering="geometricPrecision" xml:space="preserve" style="white-space:pre">19 Jan 2023</text>
<text transform="translate(68.5,822) scale(0.922,1)" font-size="9.8" fill="#000" stroke="#000" stroke-width="0.2" text-rendering="geometricPrecision" xml:space="preserve" style="white-space:pre">20 Jan 10:55</text>
<text transform="translate(132.5,822) scale(0.922,1)" font-size="9.8" fill="#000" stroke="#000" stroke-width="0.2" text-rendering="geometricPrecision" xml:space="preserve" style="white-space:pre">23 Jan 00:00</text>
<text transform="translate(196.5,822) scale(0.922,1)" font-size="9.8" fill="#000" stroke="#000" stroke-width="0.2" text-rendering="geometricPrecision" xml:space="preserve" style="white-space:pre">23 Jan 18:55</text>
<text transform="translate(260.5,822) scale(0.922,1)" font-size="9.8" fill="#000" stroke="#000" stroke-width="0.2" text-rendering="geometricPrecision" xml:space="preserve" style="white-space:pre">24 Jan 10:55</text>
<text transform="translate(324.5,822) scale(0.922,1)" font-size="9.8" fill="#000" stroke="#000" stroke-width="0.2" text-rendering="geometricPrecision" xml:space="preserve" style="white-space:pre">25 Jan 00:00</text>
<text transform="translate(388.5,822) scale(0.922,1)" font-size="9.8" fill="#000" stroke="#000" stroke-width="0.2" text-rendering="geometricPrecision" xml:space="preserve" style="white-space:pre">25 Jan 18:55</text>
<text transform="translate(452.5,822) scale(0.922,1)" font-size="9.8" fill="#000" stroke="#000" stroke-width="0.2" text-rendering="geometricPrecision" xml:space="preserve" style="white-space:pre">26 Jan 10:55</text>
<text transform="translate(516.5,822) scale(0.922,1)" font-size="9.8" fill="#000" stroke="#000" stroke-width="0.2" text-rendering="geometricPrecision" xml:space="preserve" style="white-space:pre">27 Jan 00:00</text>
<text transform="translate(580.5,822) scale(0.922,1)" font-size="9.8" fill="#000" stroke="#000" stroke-width="0.2" text-rendering="geometricPrecision" xml:space="preserve" style="white-space:pre">27 Jan 18:55</text>
<text transform="translate(644.5,822) scale(0.922,1)" font-size="9.8" fill="#000" stroke="#000" stroke-width="0.2" text-rendering="geometricPrecision" xml:space="preserve" style="white-space:pre">30 Jan 10:55</text>
<text transform="translate(708.5,822) scale(0.922,1)" font-size="9.8" fill="#000" stroke="#000" stroke-width="0.2" text-rendering="geometricPrecision" xml:space="preserve" style="white-space:pre">31 Jan 00:00</text>
<text transform="translate(772.5,822) scale(0.922,1)" font-size="9.8" fill="#000" stroke="#000" stroke-width="0.2" text-rendering="geometricPrecision" xml:space="preserve" style="white-space:pre">31 Jan 18:55</text>
<text transform="translate(836.5,822) scale(0.95,1)" font-size="9.8" fill="#000" stroke="#000" stroke-width="0.2" text-rendering="geometricPrecision" xml:space="preserve" style="white-space:pre">1 Feb 10:55</text>
<text transform="translate(900.5,822) scale(0.95,1)" font-size="9.8" fill="#000" stroke="#000" stroke-width="0.2" text-rendering="geometricPrecision" xml:space="preserve" style="white-space:pre">2 Feb 00:00</text>
<text transform="translate(964.5,822) scale(0.95,1)" font-size="9.8" fill="#000" stroke="#000" stroke-width="0.2" text-rendering="geometricPrecision" xml:space="preserve" style="white-space:pre">2 Feb 18:55</text>
<text transform="translate(1028.5,822) scale(0.95,1)" font-size="9.8" fill="#000" stroke="#000" stroke-width="0.2" text-rendering="geometricPrecision" xml:space="preserve" style="white-space:pre">3 Feb 10:55</text>
<text transform="translate(1092.5,822) scale(0.95,1)" font-size="9.8" fill="#000" stroke="#000" stroke-width="0.2" text-rendering="geometricPrecision" xml:space="preserve" style="white-space:pre">6 Feb 00:00</text>
<text transform="translate(1156.5,822) scale(0.95,1)" font-size="9.8" fill="#000" stroke="#000" stroke-width="0.2" text-rendering="geometricPrecision" xml:space="preserve" style="white-space:pre">6 Feb 18:55</text>
<text transform="translate(1220.5,822) scale(0.95,1)" font-size="9.8" fill="#000" stroke="#000" stroke-width="0.2" text-rendering="geometricPrecision" xml:space="preserve" style="white-space:pre">7 Feb 10:55</text>
<text transform="translate(1284.5,822) scale(0.95,1)" font-size="9.8" fill="#000" stroke="#000" stroke-width="0.2" text-rendering="geometricPrecision" xml:space="preserve" style="white-space:pre">8 Feb 00:00</text>
<text transform="translate(1348.5,822) scale(0.95,1)" font-size="9.8" fill="#000" stroke="#000" stroke-width="0.2" text-rendering="geometricPrecision" xml:space="preserve" style="white-space:pre">8 Feb 18:55</text>
<g id="toolbar">
<defs><linearGradient id="gold" x1="0" y1="0" x2="1" y2="1"><stop offset="0" stop-color="#fbe27a"/><stop offset="0.5" stop-color="#e8b81c"/><stop offset="1" stop-color="#b8860b"/></linearGradient><linearGradient id="srv" x1="0" y1="0" x2="1" y2="0"><stop offset="0" stop-color="#1a8cf0"/><stop offset="1" stop-color="#5ab4ff"/></linearGradient><linearGradient id="cloud" x1="0" y1="0" x2="0" y2="1"><stop offset="0" stop-color="#ffffff"/><stop offset="1" stop-color="#c4d4ee"/></linearGradient><linearGradient id="grn" x1="0" y1="0" x2="1" y2="0"><stop offset="0" stop-color="#10c010"/><stop offset="0.5" stop-color="#70f070"/><stop offset="1" stop-color="#10c010"/></linearGradient><linearGradient id="redb" x1="0" y1="0" x2="0" y2="1"><stop offset="0" stop-color="#e85030"/><stop offset="1" stop-color="#d01808"/></linearGradient><linearGradient id="hat" x1="0" y1="0" x2="0" y2="1"><stop offset="0" stop-color="#8cd0f0"/><stop offset="1" stop-color="#3a90c8"/></linearGradient><linearGradient id="face" x1="0" y1="0" x2="1" y2="1"><stop offset="0" stop-color="#fff08a"/><stop offset="1" stop-color="#e8b010"/></linearGradient><linearGradient id="sig" x1="0" y1="0" x2="1" y2="1"><stop offset="0" stop-color="#c4dcc8"/><stop offset="1" stop-color="#4aa84a"/></linearGradient><linearGradient id="tbl" x1="0" y1="0" x2="0" y2="1"><stop offset="0" stop-color="#1a40b8"/><stop offset="1" stop-color="#2a68e0"/></linearGradient><linearGradient id="tgr" x1="0" y1="0" x2="0" y2="1"><stop offset="0" stop-color="#2a8a10"/><stop offset="1" stop-color="#48b020"/></linearGradient><radialGradient id="clk" cx="0.5" cy="0.4" r="0.6"><stop offset="0" stop-color="#40a0f8"/><stop offset="1" stop-color="#0a50b0"/></radialGradient><pattern id="chk" width="2" height="2" patternUnits="userSpaceOnUse"><rect width="2" height="2" fill="#ffffff"/><rect width="1" height="1" fill="#f0f0f0"/><rect x="1" y="1" width="1" height="1" fill="#f0f0f0"/></pattern></defs>
<rect x="-2" y="10.5" width="6" height="3" fill="#30d030" stroke="#108010" stroke-width="0.8"/>
<text class="cjk" x="6.7" y="11.8" font-size="12.2" fill="#000" stroke="#000" stroke-width="0.12">新订单</text>
<g><polygon points="54.8,9.6 63,12.8 70.6,8.2 71,10 62.8,15.9 54.8,11.2" fill="#a87414"/><polyline points="55.6,10.9 63,13.9 70.6,9.2" fill="none" stroke="#f6e6b4" stroke-width="0.9"/><path d="M60.4,1.2 L70.6,8.2 L63,12.8 L55,9.6 Q58.6,6 60.4,1.2 Z" fill="url(#gold)" stroke="#a87414" stroke-width="0.7"/></g>
<g><polygon points="85.2,1.6 88.8,0 95.8,0 95.8,9.6 85.2,9.6" fill="#2f9bff"/><polygon points="85.2,1.6 88.6,1 88.6,9.6 85.2,9.6" fill="#0a78e6"/><polygon points="85.2,1.6 88.8,-0.4 95.8,-0.4 95.8,0.8 88.6,1.2" fill="#1f68d8"/><rect x="90.2" y="3.4" width="4.6" height="1.5" fill="#e8f4ff"/><rect x="90.2" y="5.8" width="2.4" height="0.8" fill="#a8d4ff"/><path d="M86.2,15.4 C82.2,15.4 82.2,11 85.6,10.6 C86,8.2 89.4,7.8 90.6,9.6 C92,7.6 95.6,8.2 95.6,10.6 C99.8,10 100.4,15.4 96.4,15.4 Z" fill="url(#cloud)" stroke="#4c6cac" stroke-width="1"/></g>
<g fill="none"><path d="M119.2,7.6 L121.9,0.3 A7.8,7.8 0 0 1 119.2,15.4 Z" fill="url(#sig)"/><path d="M119.2,15.2 A7.6,7.6 0 1 1 121.8,0.5" stroke="#9ab0e4" stroke-width="0.9"/><path d="M119.2,12.7 A5.1,5.1 0 1 1 120.9,2.8" stroke="#6f92e0" stroke-width="1"/><path d="M119.2,10.3 A2.7,2.7 0 1 1 120.1,5.1" stroke="#4a78dc" stroke-width="1"/><path d="M120.9,2.8 A5.1,5.1 0 0 1 119.2,12.7" stroke="#eef6ee" stroke-width="0.9"/><path d="M120.1,5.1 A2.7,2.7 0 0 1 119.2,10.3" stroke="#eef6ee" stroke-width="0.8"/><circle cx="119.2" cy="7.4" r="1.5" fill="#2a60d8"/><line x1="119.6" y1="8" x2="119.6" y2="15.4" stroke="#18a018" stroke-width="1.3"/></g>
<g><polygon points="138.2,6.6 154,6.6 148,15.4 145.2,15" fill="url(#face)" stroke="#c89010" stroke-width="0.7"/><ellipse cx="146" cy="4.2" rx="8" ry="2.7" fill="url(#hat)" stroke="#3a88b8" stroke-width="0.6"/><path d="M142,3.8 C142.6,0.8 144.4,-0.4 146,-0.4 C147.6,-0.4 149.4,0.8 150,3.8 Z" fill="#6cbce8"/><circle cx="150.4" cy="11.6" r="4.1" fill="url(#redb)"/><rect x="149.1" y="10.3" width="2.6" height="2.6" fill="#ffffff"/></g>
<text class="cjk" x="158.4" y="11.8" font-size="12.2" fill="#000" stroke="#000" stroke-width="0.12">自动交易</text>
<rect x="214" y="0" width="1" height="20" fill="#a0a0a0" shape-rendering="crispEdges"/>
<rect x="215" y="0" width="1" height="20" fill="#ffffff" shape-rendering="crispEdges"/>
<g shape-rendering="crispEdges" fill="#b8b8b8">
<rect x="218" y="0" width="3" height="1"/>
<rect x="218" y="2" width="3" height="1"/>
<rect x="218" y="4" width="3" height="1"/>
<rect x="218" y="6" width="3" height="1"/>
<rect x="218" y="8" width="3" height="1"/>
<rect x="218" y="10" width="3" height="1"/>
<rect x="218" y="12" width="3" height="1"/>
<rect x="218" y="14" width="3" height="1"/>
<rect x="218" y="16" width="3" height="1"/>
</g>
<g stroke="#505050" stroke-width="1.2" fill="#505050"><line x1="232.5" y1="3" x2="232.5" y2="16"/><line x1="230" y1="13.5" x2="243" y2="13.5"/><polygon points="232.5,1.5 230.7,4.2 234.3,4.2" stroke="none"/><polygon points="244.5,13.5 241.8,11.7 241.8,15.3" stroke="none"/></g>
<path d="M238.5,3.4 V11.4 M238.5,4.4 H241 M236,10.4 H238.5" stroke="#008800" stroke-width="1.5" fill="none"/>
<rect x="252" y="0" width="1" height="18" fill="#a0a0a0" shape-rendering="crispEdges"/>
<rect x="253" y="0" width="1" height="18" fill="#ffffff" shape-rendering="crispEdges"/>
<rect x="254" y="0" width="24" height="18" fill="url(#chk)" shape-rendering="crispEdges"/>
<g stroke="#505050" stroke-width="1.2" fill="#505050"><line x1="260.5" y1="3" x2="260.5" y2="16"/><line x1="258" y1="13.5" x2="271" y2="13.5"/><polygon points="260.5,1.5 258.7,4.2 262.3,4.2" stroke="none"/><polygon points="272.5,13.5 269.8,11.7 269.8,15.3" stroke="none"/></g>
<line x1="266.5" y1="0" x2="266.5" y2="11.6" stroke="#008800" stroke-width="1.4"/>
<rect x="264.4" y="2.4" width="4.2" height="7.2" rx="0.6" fill="url(#grn)" stroke="#008800" stroke-width="0.9"/>
<g stroke="#505050" stroke-width="1.2" fill="#505050"><line x1="288.5" y1="3" x2="288.5" y2="16"/><line x1="286" y1="13.5" x2="299" y2="13.5"/><polygon points="288.5,1.5 286.7,4.2 290.3,4.2" stroke="none"/><polygon points="300.5,13.5 297.8,11.7 297.8,15.3" stroke="none"/></g>
<path d="M287.4,10.6 C290,9 291,5.2 293,5.2 C295,5.2 296,8.6 298.8,9.2" stroke="#209020" stroke-width="1.3" fill="none"/>
<rect x="309" y="0" width="1" height="18" fill="#a0a0a0" shape-rendering="crispEdges"/>
<rect x="310" y="0" width="1" height="18" fill="#ffffff" shape-rendering="crispEdges"/>
<line x1="328.2" y1="10.2" x2="333" y2="14.8" stroke="#a88000" stroke-width="3.4" stroke-linecap="butt"/>
<line x1="328.4" y1="10.4" x2="332.6" y2="14.4" stroke="#f0d040" stroke-width="2"/>
<circle cx="324" cy="5.9" r="5.5" fill="#d8ecf8" stroke="#2f6fc8" stroke-width="1.1"/>
<line x1="320.6" y1="5.9" x2="327.4" y2="5.9" stroke="#3a80b0" stroke-width="1.8"/>
<line x1="324" y1="2.5" x2="324" y2="9.3" stroke="#3a80b0" stroke-width="1.8"/>
<line x1="356.2" y1="10.2" x2="361" y2="14.8" stroke="#a88000" stroke-width="3.4" stroke-linecap="butt"/>
<line x1="356.4" y1="10.4" x2="360.6" y2="14.4" stroke="#f0d040" stroke-width="2"/>
<circle cx="352" cy="5.9" r="5.5" fill="#d8ecf8" stroke="#2f6fc8" stroke-width="1.1"/>
<line x1="348.6" y1="5.9" x2="355.4" y2="5.9" stroke="#3a80b0" stroke-width="1.8"/>
<rect x="374" y="0" width="7.8" height="7.6" rx="0.8" fill="url(#tgr)"/>
<rect x="375.2" y="3" width="5.6" height="3.6" fill="#ffffff"/>
<rect x="376.2" y="4" width="3.6" height="0.9" fill="#b8e0a0"/>
<rect x="375" y="0.9" width="1" height="1" fill="#e8f0ff" opacity="0.9"/>
<rect x="382.2" y="0" width="7.8" height="7.6" rx="0.8" fill="url(#tbl)"/>
<rect x="383.4" y="3" width="5.6" height="3.6" fill="#ffffff"/>
<rect x="384.4" y="4" width="3.6" height="0.9" fill="#a8c0f0"/>
<rect x="383.2" y="0.9" width="1" height="1" fill="#e8f0ff" opacity="0.9"/>
<rect x="374" y="8" width="7.8" height="7.6" rx="0.8" fill="url(#tbl)"/>
<rect x="375.2" y="11" width="5.6" height="3.6" fill="#ffffff"/>
<rect x="376.2" y="12" width="3.6" height="0.9" fill="#a8c0f0"/>
<rect x="375" y="8.9" width="1" height="1" fill="#e8f0ff" opacity="0.9"/>
<rect x="382.2" y="8" width="7.8" height="7.6" rx="0.8" fill="url(#tgr)"/>
<rect x="383.4" y="11" width="5.6" height="3.6" fill="#ffffff"/>
<rect x="384.4" y="12" width="3.6" height="0.9" fill="#b8e0a0"/>
<rect x="383.2" y="8.9" width="1" height="1" fill="#e8f0ff" opacity="0.9"/>
<rect x="399" y="0" width="1" height="18" fill="#a0a0a0" shape-rendering="crispEdges"/>
<rect x="400" y="0" width="1" height="18" fill="#ffffff" shape-rendering="crispEdges"/>
<rect x="404" y="0" width="1" height="18" fill="#a0a0a0" shape-rendering="crispEdges"/>
<rect x="405" y="0" width="1" height="18" fill="#ffffff" shape-rendering="crispEdges"/>
<rect x="406" y="0" width="24" height="18" fill="url(#chk)" shape-rendering="crispEdges"/>
<g stroke="#505050" stroke-width="1.2" fill="#505050"><line x1="412.5" y1="3" x2="412.5" y2="16"/><line x1="410" y1="13.5" x2="423" y2="13.5"/><polygon points="412.5,1.5 410.7,4.2 414.3,4.2" stroke="none"/><polygon points="424.5,13.5 421.8,11.7 421.8,15.3" stroke="none"/></g>
<polygon points="417.4,4.2 417.4,10.6 421,7.4" fill="#60e060" stroke="#00a000" stroke-width="1"/>
<rect x="432" y="0" width="1" height="18" fill="#a0a0a0" shape-rendering="crispEdges"/>
<rect x="433" y="0" width="1" height="18" fill="#ffffff" shape-rendering="crispEdges"/>
<rect x="434" y="0" width="24" height="18" fill="url(#chk)" shape-rendering="crispEdges"/>
<g stroke="#505050" stroke-width="1.2" fill="#505050"><line x1="440.5" y1="3" x2="440.5" y2="16"/><line x1="438" y1="13.5" x2="451" y2="13.5"/><polygon points="440.5,1.5 438.7,4.2 442.3,4.2" stroke="none"/><polygon points="452.5,13.5 449.8,11.7 449.8,15.3" stroke="none"/></g>
<line x1="446.5" y1="2" x2="446.5" y2="11.8" stroke="#1a6ab0" stroke-width="1.3"/>
<path d="M447.4,7.5 L450,5.4 L449.6,7 H452 V8 H449.6 L450,9.6 Z" fill="#e05000"/>
<rect x="461" y="0" width="1" height="18" fill="#a0a0a0" shape-rendering="crispEdges"/>
<rect x="462" y="0" width="1" height="18" fill="#ffffff" shape-rendering="crispEdges"/>
<path d="M471.6,0.4 H479.4 L482.4,3.4 V13 H471.6 Z" fill="#ffffff" stroke="#909090" stroke-width="0.9"/>
<path d="M479.4,0.4 V3.4 H482.4" fill="#e0e0e0" stroke="#909090" stroke-width="0.7"/>
<path d="M476,3 C474.4,3 474.4,4 474.4,5.4 V10.6 M473.2,6.4 H476" stroke="#706040" stroke-width="0.9" fill="none"/>
<path d="M479,6 H483 V9.6 H486.8 V13.6 H483 V17.4 H479 V13.6 H475.4 V9.6 H479 Z" fill="#28d028" stroke="#0a8a0a" stroke-width="0.9"/>
<polygon points="493,7 498.6,7 495.8,10" fill="#000"/>
<rect x="515.4" y="-1" width="3.2" height="2.4" fill="#1a60c0"/>
<circle cx="517" cy="7.9" r="7.9" fill="url(#clk)"/>
<circle cx="517" cy="7.9" r="5.6" fill="#f4f8ff"/>
<path d="M516.6,4 V8 H520" stroke="#303030" stroke-width="1.2" fill="none"/>
<g fill="#8090a8"><rect x="516.6" y="2.8" width="0.8" height="0.9"/><rect x="516.6" y="12" width="0.8" height="0.9"/><rect x="512" y="7.5" width="0.9" height="0.8"/><rect x="521.2" y="7.5" width="0.9" height="0.8"/></g>
<polygon points="532,7 537.6,7 534.8,10" fill="#000"/>
<rect x="548.4" y="1.2" width="15.4" height="13.6" fill="#ffffff" stroke="#3a70c0" stroke-width="1"/>
<rect x="548.4" y="1.2" width="15.4" height="2.2" fill="#4a88d8"/>
<rect x="548.4" y="8.6" width="15.4" height="1" fill="#6a98d8"/>
<path d="M550.4,7 H552.4 L554,5.4 H555.6 L557,6.4 H559 L560.6,5.4 H562" stroke="#8a1a00" stroke-width="1.1" fill="none"/>
<path d="M551.2,12.4 H552.8 L554.2,11.4 L555.8,12.4 H556.6 L558.6,10.2 H559.6 L562,12.6" stroke="#0a8a1a" stroke-width="1.1" fill="none"/>
<polygon points="571,7 576.6,7 573.8,10" fill="#000"/>
<rect x="582" y="0" width="1" height="20" fill="#a0a0a0" shape-rendering="crispEdges"/>
<rect x="583" y="0" width="1" height="20" fill="#ffffff" shape-rendering="crispEdges"/>
<g shape-rendering="crispEdges" fill="#b8b8b8">
<rect x="586" y="0" width="3" height="1"/>
<rect x="586" y="2" width="3" height="1"/>
<rect x="586" y="4" width="3" height="1"/>
<rect x="586" y="6" width="3" height="1"/>
<rect x="586" y="8" width="3" height="1"/>
<rect x="586" y="10" width="3" height="1"/>
<rect x="586" y="12" width="3" height="1"/>
<rect x="586" y="14" width="3" height="1"/>
<rect x="586" y="16" width="3" height="1"/>
</g>
<rect x="592" y="0" width="1" height="18" fill="#a0a0a0" shape-rendering="crispEdges"/>
<rect x="593" y="0" width="1" height="18" fill="#ffffff" shape-rendering="crispEdges"/>
<rect x="594" y="0" width="24" height="18" fill="url(#chk)" shape-rendering="crispEdges"/>
<polygon points="600,1 600,12.2 602.6,9.8 605,15 607,14 604.6,9 608.2,8.6" fill="#505050"/>
<g stroke="#505050" stroke-width="1.2"><line x1="632.6" y1="1" x2="632.6" y2="7"/><line x1="632.6" y1="10" x2="632.6" y2="16"/><line x1="625" y1="8.4" x2="631" y2="8.4"/><line x1="634" y1="8.4" x2="640" y2="8.4"/></g>
<rect x="649" y="0" width="1" height="18" fill="#a0a0a0" shape-rendering="crispEdges"/>
<rect x="650" y="0" width="1" height="18" fill="#ffffff" shape-rendering="crispEdges"/>
<g stroke="#505050" stroke-width="1.2" fill="none"><line x1="666.5" y1="2" x2="666.5" y2="15"/><line x1="689" y1="8.4" x2="701" y2="8.4"/><line x1="717" y1="14.8" x2="729" y2="2.8"/><line x1="743" y1="10" x2="751.4" y2="2"/><line x1="745" y1="14.4" x2="756" y2="3.2"/><line x1="748.4" y1="14.6" x2="757.4" y2="6"/><path d="M745.4,13 L746.4,8 L748.4,11 L749.4,6.6 L751.4,9 L752.6,4.6 L754.4,6.4 L754.6,0" stroke-width="0.9"/></g>
<text x="753.6" y="16.6" font-size="6.6" font-weight="bold" fill="#505050">E</text>
<g fill="#505050" shape-rendering="crispEdges">
<rect x="772" y="1" width="1" height="1"/>
<rect x="774" y="1" width="1" height="1"/>
<rect x="776" y="1" width="1" height="1"/>
<rect x="778" y="1" width="1" height="1"/>
<rect x="780" y="1" width="1" height="1"/>
<rect x="782" y="1" width="1" height="1"/>
<rect x="784" y="1" width="1" height="1"/>
<rect x="772" y="4" width="1" height="1"/>
<rect x="774" y="4" width="1" height="1"/>
<rect x="776" y="4" width="1" height="1"/>
<rect x="778" y="4" width="1" height="1"/>
<rect x="780" y="4" width="1" height="1"/>
<rect x="782" y="4" width="1" height="1"/>
<rect x="784" y="4" width="1" height="1"/>
<rect x="772" y="8" width="1" height="1"/>
<rect x="774" y="8" width="1" height="1"/>
<rect x="776" y="8" width="1" height="1"/>
<rect x="778" y="8" width="1" height="1"/>
<rect x="780" y="8" width="1" height="1"/>
<rect x="782" y="8" width="1" height="1"/>
<rect x="784" y="8" width="1" height="1"/>
<rect x="772" y="12" width="1" height="1"/>
<rect x="774" y="12" width="1" height="1"/>
<rect x="776" y="12" width="1" height="1"/>
<rect x="778" y="12" width="1" height="1"/>
</g>
<text x="781.6" y="16.6" font-size="6.6" font-weight="bold" fill="#505050">F</text>
<text x="802.4" y="13.2" font-size="12.6" fill="#505050" stroke="#505050" stroke-width="0.35">A</text>
<rect x="829.5" y="2.5" width="11" height="12" fill="none" stroke="#505050" stroke-width="1" stroke-dasharray="1 1" shape-rendering="crispEdges"/>
<path d="M831.6,5.6 H838.4 M835,5.6 V12.6" stroke="#505050" stroke-width="1.4" fill="none"/>
<g fill="#505050"><polygon points="859.6,1.8 862.6,4.8 859.6,6.6 856.6,4.8"/><polygon points="866.6,14.4 869.8,11 866.6,9.8 863.4,11"/><path d="M858.4,9.4 L860.6,11.2 L865,6" stroke="#505050" stroke-width="1.3" fill="none"/></g>
<polygon points="877,7 882.6,7 879.8,10" fill="#000"/>
<rect x="888" y="0" width="1" height="20" fill="#a0a0a0" shape-rendering="crispEdges"/>
<rect x="889" y="0" width="1" height="20" fill="#ffffff" shape-rendering="crispEdges"/>
<g shape-rendering="crispEdges" fill="#b8b8b8">
<rect x="892" y="0" width="3" height="1"/>
<rect x="892" y="2" width="3" height="1"/>
<rect x="892" y="4" width="3" height="1"/>
<rect x="892" y="6" width="3" height="1"/>
<rect x="892" y="8" width="3" height="1"/>
<rect x="892" y="10" width="3" height="1"/>
<rect x="892" y="12" width="3" height="1"/>
<rect x="892" y="14" width="3" height="1"/>
<rect x="892" y="16" width="3" height="1"/>
</g>
<text x="903.3" y="12" font-size="9.8" fill="#404040" stroke="#404040" stroke-width="0.2" text-rendering="geometricPrecision">M1</text>
<text x="931.3" y="12" font-size="9.8" fill="#404040" stroke="#404040" stroke-width="0.2" text-rendering="geometricPrecision">M5</text>
<text x="957.3" y="12" font-size="9.8" fill="#404040" stroke="#404040" stroke-width="0.2" text-rendering="geometricPrecision">M15</text>
<text x="984.9" y="12" font-size="9.8" fill="#404040" stroke="#404040" stroke-width="0.2" text-rendering="geometricPrecision">M30</text>
<text x="1015.8" y="12" font-size="9.8" fill="#404040" stroke="#404040" stroke-width="0.2" text-rendering="geometricPrecision">H1</text>
<rect x="1038" y="0" width="1" height="18" fill="#a0a0a0" shape-rendering="crispEdges"/>
<rect x="1039" y="0" width="1" height="18" fill="#ffffff" shape-rendering="crispEdges"/>
<rect x="1040" y="0" width="24" height="18" fill="url(#chk)" shape-rendering="crispEdges"/>
<text x="1044.0" y="12" font-size="9.8" fill="#404040" stroke="#404040" stroke-width="0.2" text-rendering="geometricPrecision">H4</text>
<text x="1071.8" y="12" font-size="9.8" fill="#404040" stroke="#404040" stroke-width="0.2" text-rendering="geometricPrecision">D1</text>
<text x="1100.1" y="12" font-size="9.8" fill="#404040" stroke="#404040" stroke-width="0.2" text-rendering="geometricPrecision">W1</text>
<text x="1125.7" y="12" font-size="9.8" fill="#404040" stroke="#404040" stroke-width="0.2" text-rendering="geometricPrecision">MN</text>
<rect x="1149" y="0" width="1" height="20" fill="#a0a0a0" shape-rendering="crispEdges"/>
<rect x="1150" y="0" width="1" height="20" fill="#ffffff" shape-rendering="crispEdges"/>
<line x1="1616.4" y1="8.8" x2="1612.2" y2="13" stroke="#1a48c8" stroke-width="2.4" stroke-linecap="round"/>
<circle cx="1619.4" cy="5.4" r="3.9" fill="none" stroke="#2a5bd7" stroke-width="1.3"/>
<path d="M1636.6,10 A5.2,4.4 0 1 1 1641.8,14.2 L1639.6,16.6 L1639.6,14 A5,4.4 0 0 1 1636.6,10 Z" fill="#e4e6ec" stroke="#c0c2c8" stroke-width="0.8"/>
<circle cx="1650.4" cy="6" r="8.2" fill="url(#redb)"/>
<text x="1650.4" y="10.4" font-size="12.6" fill="#fff" stroke="#fff" stroke-width="0.45" text-anchor="middle">1</text>
</g>
</svg></body></html>
